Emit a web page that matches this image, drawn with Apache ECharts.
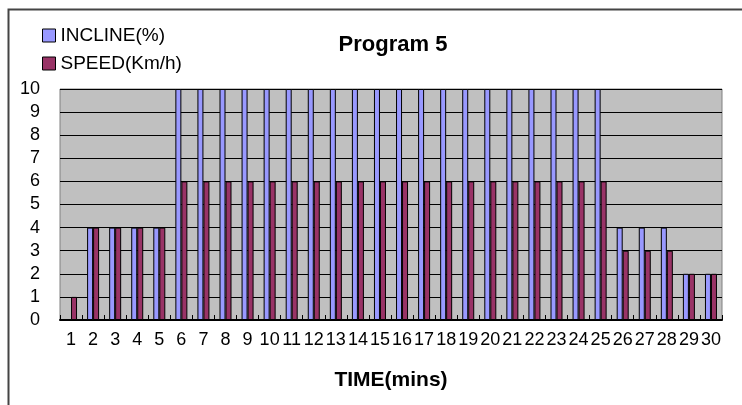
<!DOCTYPE html>
<html><head><meta charset="utf-8">
<script src="https://cdn.jsdelivr.net/npm/echarts@6/dist/echarts.min.js"></script>
<style>html,body{margin:0;padding:0;background:#fff}#c{width:742px;height:405px}</style>
</head><body><div id="c"></div>
<script>
const categories = ['1','2','3','4','5','6','7','8','9','10','11','12','13','14','15','16','17','18','19','20','21','22','23','24','25','26','27','28','29','30'];
const incline = [0,4,4,4,4,10,10,10,10,10,10,10,10,10,10,10,10,10,10,10,10,10,10,10,10,4,4,4,2,2];
const speed = [1,4,4,4,4,6,6,6,6,6,6,6,6,6,6,6,6,6,6,6,6,6,6,6,6,3,3,3,2,2];
const yTicks = [0,1,2,3,4,5,6,7,8,9,10];

const chart = echarts.init(document.getElementById('c'));
chart.setOption({
  animation: false,
  backgroundColor: '#fff',
  textStyle: { fontFamily: 'Liberation Sans, Arial, sans-serif' },
  graphic: [{ type: 'rect', left: 6, top: 7, shape: { width: 760, height: 420 }, style: { fill: 'none', stroke: '#444', lineWidth: 2 }, z: 100 }],
  title: { text: 'Program 5', left: 388, top: 29, textAlign: 'center',
    textStyle: { fontFamily: 'Liberation Sans, Arial, sans-serif', fontWeight: 'bold', fontSize: 22, color: '#000' } },
  legend: { orient: 'vertical', left: 37, top: 21, itemWidth: 13, itemHeight: 13, itemGap: 9,
    icon: 'rect', textStyle: { fontSize: 19, color: '#000' },
    itemStyle: { borderColor: '#000', borderWidth: 1 },
    data: ['INCLINE(%)', 'SPEED(Km/h)'] },
  grid: { left: 60, right: 20, top: 89, bottom: 85, show: true, backgroundColor: '#C0C0C0', borderColor: '#808080', borderWidth: 1 },
  xAxis: { type: 'category', data: categories, name: 'TIME(mins)', nameLocation: 'middle', nameGap: 50,
    nameTextStyle: { fontWeight: 'bold', fontSize: 21, color: '#000' },
    axisLine: { lineStyle: { color: '#000', width: 2 } },
    axisTick: { show: true, inside: true, length: 5, lineStyle: { color: '#000' } },
    axisLabel: { interval: 0, fontSize: 18, color: '#000', margin: 11 } },
  yAxis: { type: 'value', min: yTicks[0], max: yTicks[yTicks.length-1], interval: 1,
    axisLine: { show: false }, axisTick: { show: false },
    axisLabel: { fontSize: 18, color: '#000', margin: 20 },
    splitLine: { lineStyle: { color: '#000', width: 1 } } },
  series: [
    { name: 'INCLINE(%)', type: 'bar', data: incline, barWidth: 6, barGap: '0%',
      itemStyle: { color: '#9999FF', borderColor: '#000', borderWidth: 1 } },
    { name: 'SPEED(Km/h)', type: 'bar', data: speed, barWidth: 6, barGap: '0%',
      itemStyle: { color: '#993366', borderColor: '#000', borderWidth: 1 } }
  ]
});
</script></body></html>
